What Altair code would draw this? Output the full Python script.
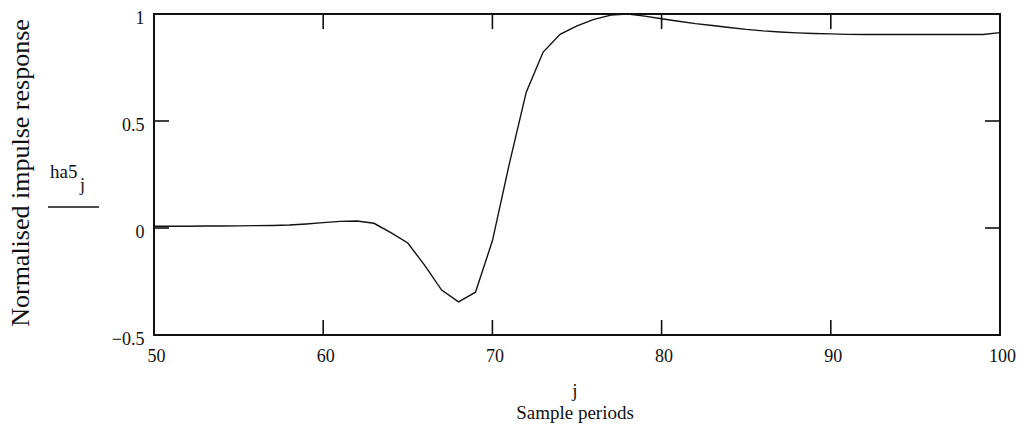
import altair as alt
import pandas as pd

# ---- data ----
j_values = list(range(50, 101))
ha5_values = [
    0.008, 0.008, 0.008, 0.009, 0.009, 0.010, 0.011, 0.012, 0.014, 0.019,   # 50-59
    0.025, 0.031, 0.033, 0.022, -0.022, -0.070, -0.175, -0.290, -0.345, -0.300,  # 60-69
    -0.060, 0.300, 0.635, 0.822, 0.905, 0.945, 0.975, 0.995, 1.000, 0.990,  # 70-79
    0.978, 0.966, 0.955, 0.946, 0.937, 0.928, 0.921, 0.916, 0.912, 0.909,   # 80-89
    0.907, 0.905, 0.904, 0.904, 0.904, 0.904, 0.904, 0.904, 0.904, 0.904,   # 90-99
    0.913,                                                                  # 100
]
x_tick_values = [50, 60, 70, 80, 90, 100]
y_tick_values = [-0.5, 0, 0.5, 1]
x_inner_ticks = [60, 70, 80, 90]
y_inner_ticks = [0, 0.5]

W, H = 846, 321
TICK = 15
FONT = "Liberation Serif"
INK = "#111111"

df = pd.DataFrame({"j": j_values, "ha5": ha5_values})
xt = pd.DataFrame({"t": x_inner_ticks})
yt = pd.DataFrame({"t": y_inner_ticks})

xscale = alt.Scale(domain=[50, 100], nice=False, zero=False)
yscale = alt.Scale(domain=[-0.5, 1], nice=False, zero=False)

xaxis = alt.Axis(values=x_tick_values, title=None, ticks=False, domain=False, grid=False,
                 labelFont=FONT, labelFontSize=18, labelColor=INK, labelPadding=12,
                 labelFlush=False, labelOffset=2, labelOverlap=False, format="d")
yaxis = alt.Axis(values=y_tick_values, title=None, ticks=False, domain=False, grid=False,
                 labelFont=FONT, labelFontSize=18, labelColor=INK, labelPadding=10,
                 labelOffset=4, labelOverlap=False, labelFlush=False, format="~g")

line = alt.Chart(df).mark_line(color=INK, strokeWidth=1.4).encode(
    x=alt.X("j:Q", scale=xscale, axis=xaxis),
    y=alt.Y("ha5:Q", scale=yscale, axis=yaxis),
)

tick_bottom = alt.Chart(xt).mark_rule(color=INK, strokeWidth=1.6).encode(
    x=alt.X("t:Q", scale=xscale), y=alt.value(H - TICK), y2=alt.value(H))
tick_top = alt.Chart(xt).mark_rule(color=INK, strokeWidth=1.6).encode(
    x=alt.X("t:Q", scale=xscale), y=alt.value(0), y2=alt.value(TICK))
tick_left = alt.Chart(yt).mark_rule(color=INK, strokeWidth=1.6).encode(
    y=alt.Y("t:Q", scale=yscale), x=alt.value(0), x2=alt.value(TICK))
tick_right = alt.Chart(yt).mark_rule(color=INK, strokeWidth=1.6).encode(
    y=alt.Y("t:Q", scale=yscale), x=alt.value(W - TICK), x2=alt.value(W))

# ---- texts (Mathcad-style axis annotations) ----
one = pd.DataFrame({"d": [0]})
def txt(s, x, y, size, align="center", angle=0, baseline="alphabetic"):
    return alt.Chart(one).mark_text(
        text=s, font=FONT, fontSize=size, color=INK, align=align,
        baseline=baseline, angle=angle,
    ).encode(x=alt.value(x), y=alt.value(y))

ytitle = txt("Normalised impulse response", -133, 159, 26, angle=270, baseline="middle")
ha5 = txt("ha5", -104, 164, 19, align="left")
ha5_sub = txt("j", -74, 177, 18, align="left")
underline = alt.Chart(one).mark_rule(color=INK, strokeWidth=1.5).encode(
    x=alt.value(-106), x2=alt.value(-55), y=alt.value(193))
xj = txt("j", 421, 383, 19)
xtitle = txt("Sample periods", 421, 405, 19)

chart = alt.layer(
    line, tick_bottom, tick_top, tick_left, tick_right,
    ytitle, ha5, ha5_sub, underline, xj, xtitle,
).properties(
    width=W, height=H,
    autosize=alt.AutoSizeParams(type="none"),
    padding={"left": 154, "top": 14, "right": 21, "bottom": 93},
    background="white",
).configure_view(stroke=INK, strokeWidth=2)

chart.save("out.html", embed_options={"renderer": "svg", "actions": False})
